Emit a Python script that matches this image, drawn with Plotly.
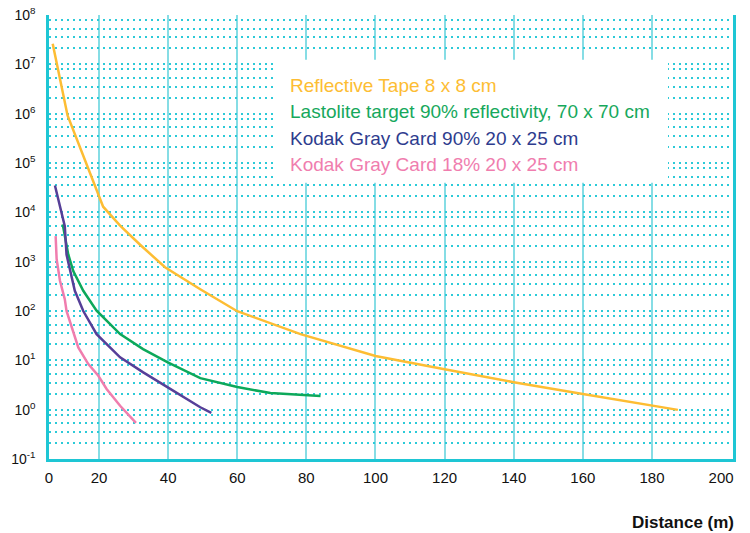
import plotly.graph_objects as go

# ---- data ----
tape_x = [6.6, 10.9, 21.2, 26.1, 31.9, 39.1, 49.3, 60.0, 78.3, 100.0, 120.0, 140.0, 160.0, 180.0, 187.5]
tape_y = [2.6e7, 9.2e5, 1.3e4, 5.4e3, 2.2e3, 7.7e2, 276, 99, 34, 12.2, 6.6, 3.6, 2.07, 1.2, 0.99]

lasto_x = [9.5, 11.1, 12.55, 15.45, 19.3, 26.1, 32.75, 39.9, 49.3, 60.0, 69.6, 78.3, 84.1]
lasto_y = [5.7e3, 1.4e3, 646, 257, 102, 34, 16.9, 9.1, 4.36, 2.87, 2.17, 1.98, 1.89]

kodak90_x = [7.25, 8.7, 10.1, 10.6, 11.6, 13.0, 15.45, 19.3, 26.1, 32.8, 39.9, 49.3, 52.5]
kodak90_y = [3.5e4, 1.33e4, 5.25e3, 1.4e3, 646, 257, 100, 34, 11.5, 5.7, 2.83, 1.12, 0.86]

kodak18_x = [7.45, 7.74, 8.7, 10.1, 10.6, 12.55, 14.0, 16.9, 19.8, 22.2, 26.1, 30.7]
kodak18_y = [3.3e3, 1.12e3, 410, 174, 100, 40, 18.2, 8.4, 4.86, 2.62, 1.2, 0.54]

series_names = [
    "Reflective Tape 8 x 8 cm",
    "Lastolite target 90% reflectivity, 70 x 70 cm",
    "Kodak Gray Card 90% 20 x 25 cm",
    "Kodak Gray Card 18% 20 x 25 cm",
]
line_colors = ["#FDBD33", "#0DA85A", "#563F98", "#F07DAE"]
text_colors = ["#FDBD33", "#16A85C", "#2E3C8E", "#F07DAE"]

x_tick_labels = ["0", "20", "40", "60", "80", "100", "120", "140", "160", "180", "200"]
x_tick_vals = [5.53, 20, 40, 60, 80, 100, 120, 140, 160, 180, 200]
x_grid_vals = [20, 40, 60, 80, 100, 120, 140, 160, 180]
y_exps = [-1, 0, 1, 2, 3, 4, 5, 6, 7, 8]
y_minor_mult = [2.1, 3.5, 5.25, 7.9]

FONT = "Helvetica, Liberation Sans, Arial, sans-serif"
CYAN = "#1EC6D4"
DOT = "#2CCAD8"

fig = go.Figure()
for xs, ys, name, col in zip(
    [tape_x, lasto_x, kodak90_x, kodak18_x],
    [tape_y, lasto_y, kodak90_y, kodak18_y],
    series_names, line_colors,
):
    fig.add_trace(go.Scatter(x=xs, y=ys, mode="lines", name=name,
                             line=dict(color=col, width=2.5), showlegend=False))

minor_y = [m * 10 ** e for e in y_exps[:-1] for m in y_minor_mult]

fig.update_layout(
    width=750, height=533,
    margin=dict(l=49, r=17, t=15, b=74, autoexpand=False),
    paper_bgcolor="white", plot_bgcolor="white",
    font=dict(family=FONT, color="#111111"),
    xaxis=dict(
        range=[5.53, 203.45], tickmode="array", tickvals=x_tick_vals,
        ticktext=x_tick_labels, showgrid=False, zeroline=False, automargin=False,
        showline=True, linecolor=CYAN, linewidth=2.5,
        ticks="outside", ticklen=3, tickcolor="rgba(0,0,0,0)",
        tickfont=dict(size=15, family=FONT, color="#111111"),
        minor=dict(tickmode="array", tickvals=x_grid_vals, showgrid=True,
                   gridcolor="#86DDE5", gridwidth=1.8, ticks=""),
    ),
    yaxis=dict(
        type="log", range=[-1, 8], tickmode="array", automargin=False,
        tickvals=[10 ** e for e in y_exps],
        ticktext=[f"10<sup>{e}</sup>" for e in y_exps],
        showgrid=True, gridcolor=DOT, gridwidth=1.8, griddash="2px,4px",
        zeroline=False, showline=True, mirror=True, linecolor=CYAN, linewidth=2.5,
        ticks="outside", ticklen=8, tickcolor="rgba(0,0,0,0)",
        tickfont=dict(size=14, family=FONT, color="#111111"),
        minor=dict(tickmode="array", tickvals=minor_y, showgrid=True,
                   gridcolor=DOT, gridwidth=1.8, griddash="2px,4px", ticks=""),
    ),
)

# white box behind the legend text
fig.add_shape(type="rect", xref="paper", yref="paper",
              x0=0.330, x1=0.905, y0=0.622, y1=0.899,
              fillcolor="white", line=dict(width=0), layer="above")

legend_y = [0.842, 0.782, 0.722, 0.664]
for name, col, yy in zip(series_names, text_colors, legend_y):
    fig.add_annotation(text=name, xref="paper", yref="paper", x=0.3494, y=yy,
                       xanchor="left", yanchor="middle", showarrow=False,
                       font=dict(size=19, family=FONT, color=col))

fig.add_annotation(text="<b>Distance (m)</b>", xref="paper", yref="paper",
                   x=1, xshift=3, y=-0.144, xanchor="right", yanchor="middle",
                   showarrow=False, font=dict(size=17, family=FONT, color="#111111"))

fig.write_html("out.html", config={"displayModeBar": False},
               post_script="document.body.style.margin='0';")
